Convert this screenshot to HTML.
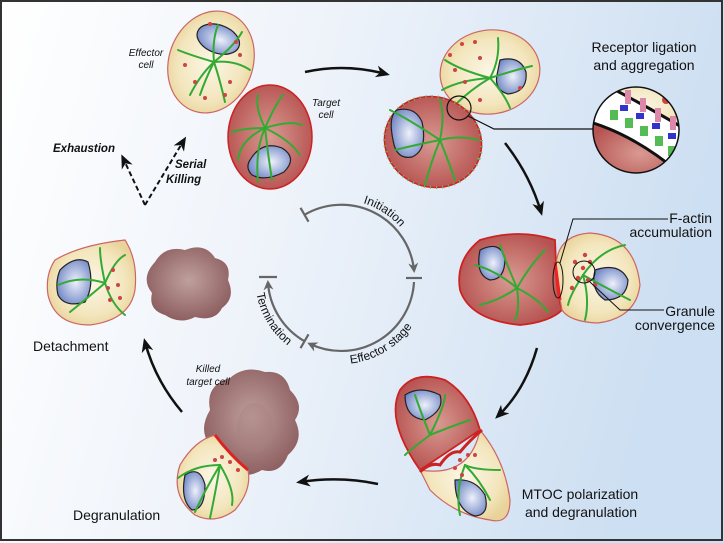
<!DOCTYPE html>
<html><head><meta charset="utf-8"><style>
html,body{margin:0;padding:0;width:724px;height:543px;overflow:hidden;background:#fff}
svg{display:block}
text{font-family:"Liberation Sans",sans-serif;fill:#111}
</style></head><body>
<svg width="724" height="543" viewBox="0 0 724 543">
<defs>
<linearGradient id="bg" x1="0" y1="0" x2="1" y2="0.2">
<stop offset="0" stop-color="#ffffff"/><stop offset="0.45" stop-color="#eef3fa"/><stop offset="1" stop-color="#cddff2"/></linearGradient>
<radialGradient id="eff" cx="0.5" cy="0.5" r="0.55"><stop offset="0" stop-color="#fbf6e6"/><stop offset="0.7" stop-color="#f3e6bd"/><stop offset="1" stop-color="#e9d39a"/></radialGradient>
<radialGradient id="tgt" cx="0.5" cy="0.5" r="0.55"><stop offset="0" stop-color="#d99a92"/><stop offset="1" stop-color="#b65250"/></radialGradient>
<radialGradient id="nuc" cx="0.55" cy="0.5" r="0.6"><stop offset="0" stop-color="#eef1fb"/><stop offset="1" stop-color="#6f86c4"/></radialGradient>
<radialGradient id="dead" cx="0.5" cy="0.45" r="0.6"><stop offset="0" stop-color="#bfa09c"/><stop offset="1" stop-color="#8a5a5c"/></radialGradient>
<marker id="ahb" markerWidth="14" markerHeight="12" refX="10" refY="6" orient="auto" markerUnits="userSpaceOnUse"><path d="M0,0 L14,6 L0,12 L4,6z" fill="#111"/></marker>
<marker id="ahg" markerWidth="10" markerHeight="10" refX="7" refY="5" orient="auto" markerUnits="userSpaceOnUse"><path d="M0,0 L10,5 L0,10 L3,5z" fill="#666"/></marker>
<path id="pInit" d="M334.2,200.3 A78,78 0 0 1 414.8,252.6"/>
<path id="pEff" d="M326.1,362.7 A86,86 0 0 0 422.8,304.6"/>
<path id="pTerm" d="M256.3,263.1 A86,86 0 0 0 314.4,359.8"/>
</defs>
<rect x="0" y="0" width="724" height="543" fill="url(#bg)"/>
<rect x="1" y="1" width="721" height="539" fill="none" stroke="#333" stroke-width="2"/>

<!-- Effector top left -->
<g transform="rotate(20 211 62)">
<ellipse cx="211" cy="62" rx="42" ry="52" fill="url(#eff)" stroke="#c66" stroke-width="1.2"/>
<ellipse cx="210" cy="38" rx="22" ry="14" fill="url(#nuc)" stroke="#222" stroke-width="1.2"/>
</g>
<g stroke="#3a3" stroke-width="2" fill="none" stroke-linecap="round">
<path d="M214,62 Q190,55 178,50"/><path d="M214,62 Q200,75 190,95"/><path d="M214,62 Q220,80 225,102"/><path d="M214,62 Q235,60 250,70"/><path d="M214,62 Q212,40 218,25"/><path d="M214,62 Q235,45 242,32"/><path d="M214,62 Q205,80 200,95"/></g>
<g fill="#c44"><circle cx="185" cy="65" r="2"/><circle cx="195" cy="82" r="2"/><circle cx="230" cy="82" r="2"/><circle cx="240" cy="55" r="2"/><circle cx="205" cy="98" r="2"/><circle cx="225" cy="95" r="2"/><circle cx="210" cy="24" r="2"/><circle cx="236" cy="42" r="2"/></g>
<text x="146" y="56" font-size="10" font-style="italic" text-anchor="middle">Effector</text>
<text x="146" y="68" font-size="10" font-style="italic" text-anchor="middle">cell</text>

<!-- Target top -->
<ellipse cx="270" cy="137" rx="42" ry="52" fill="url(#tgt)" stroke="#c22" stroke-width="1.5"/>
<path d="M250,160 Q262,140 282,148 Q298,158 284,172 Q265,182 252,175 Q245,168 250,160z" fill="url(#nuc)" stroke="#222" stroke-width="1.2"/>
<g stroke="#3a3" stroke-width="2" fill="none" stroke-linecap="round">
<path d="M265,128 Q245,128 232,132"/><path d="M265,128 Q255,108 258,95"/><path d="M265,128 Q275,105 283,95"/><path d="M265,128 Q290,120 302,125"/><path d="M265,128 Q290,140 300,155"/><path d="M265,128 Q268,155 272,180"/><path d="M265,128 Q255,150 258,182"/><path d="M265,128 Q240,140 238,160"/></g>
<text x="326" y="106" font-size="10" font-style="italic" text-anchor="middle">Target</text>
<text x="326" y="118" font-size="10" font-style="italic" text-anchor="middle">cell</text>

<path d="M305,72 Q345,63 386,74" fill="none" stroke="#111" stroke-width="2.5" marker-end="url(#ahb)"/>

<text x="53" y="152" font-size="11.5" font-weight="bold" font-style="italic">Exhaustion</text>
<text x="175" y="168" font-size="11.5" font-weight="bold" font-style="italic">Serial</text>
<text x="166" y="183" font-size="11.5" font-weight="bold" font-style="italic">Killing</text>
<path d="M145,205 L123,158" stroke="#111" stroke-width="2" stroke-dasharray="5,3" fill="none" marker-end="url(#ahb)"/>
<path d="M145,205 L184,140" stroke="#111" stroke-width="2" stroke-dasharray="5,3" fill="none" marker-end="url(#ahb)"/>

<!-- Top right pair -->
<ellipse cx="490" cy="72" rx="50" ry="42" fill="url(#eff)" stroke="#c66" stroke-width="1.2" transform="rotate(-8 490 72)"/>
<path d="M500,60 Q520,55 526,72 Q528,92 508,94 Q494,90 497,75z" fill="url(#nuc)" stroke="#222" stroke-width="1.2"/>
<g stroke="#3a3" stroke-width="2" fill="none" stroke-linecap="round">
<path d="M490,78 Q460,70 445,60"/><path d="M490,78 Q470,90 455,105"/><path d="M490,78 Q500,60 498,38"/><path d="M490,78 Q515,70 532,66"/><path d="M490,78 Q505,95 510,108"/><path d="M490,78 Q460,80 442,90"/></g>
<g fill="#c44"><circle cx="462" cy="44" r="2"/><circle cx="475" cy="42" r="2"/><circle cx="480" cy="58" r="2"/><circle cx="455" cy="70" r="2"/><circle cx="465" cy="82" r="2"/><circle cx="480" cy="100" r="2"/><circle cx="450" cy="55" r="2"/><circle cx="520" cy="88" r="2"/></g>
<ellipse cx="433" cy="142" rx="49" ry="45" fill="url(#tgt)" stroke="#c22" stroke-width="1.5" transform="rotate(20 433 142)"/>
<ellipse cx="433" cy="142" rx="49" ry="45" fill="none" stroke="#6b6" stroke-width="3" stroke-dasharray="1,5" transform="rotate(20 433 142)"/>
<path d="M397,110 Q415,106 422,122 Q428,150 412,157 Q396,160 393,140 Q388,116 397,110z" fill="url(#nuc)" stroke="#222" stroke-width="1.2"/>
<g stroke="#3a3" stroke-width="2" fill="none" stroke-linecap="round">
<path d="M440,140 Q410,120 390,110"/><path d="M440,140 Q415,145 395,150"/><path d="M440,140 Q430,165 425,185"/><path d="M440,140 Q450,165 455,180"/><path d="M440,140 Q460,135 478,140"/><path d="M440,140 Q445,115 440,100"/></g>
<circle cx="459" cy="108" r="12" fill="none" stroke="#111" stroke-width="1.2"/>
<path d="M468,116 L494,129 L594,129" fill="none" stroke="#111" stroke-width="1.2"/>
<clipPath id="mc"><circle cx="636" cy="130" r="43"/></clipPath>
<g clip-path="url(#mc)">
<rect x="590" y="85" width="100" height="100" fill="#fff"/>
<path d="M590,80 L690,80 L690,132 Q650,108 600,82z" fill="url(#eff)"/>
<path d="M590,122 Q640,137 690,182 L590,185z" fill="url(#tgt)"/>
<path d="M590,122 Q640,137 690,182" fill="none" stroke="#111" stroke-width="3"/>
<path d="M600,82 Q650,108 690,132" fill="none" stroke="#111" stroke-width="3"/>
<g fill="#d8a"><rect x="625" y="90" width="6" height="14"/><rect x="640" y="98" width="6" height="14"/><rect x="655" y="108" width="6" height="14"/><rect x="670" y="116" width="6" height="14"/></g>
<g fill="#5b5"><rect x="610" y="110" width="8" height="10"/><rect x="625" y="118" width="8" height="10"/><rect x="640" y="126" width="8" height="10"/><rect x="655" y="136" width="8" height="10"/><rect x="668" y="146" width="8" height="10"/></g>
<g fill="#33c"><rect x="620" y="105" width="8" height="6"/><rect x="636" y="113" width="8" height="6"/><rect x="652" y="123" width="8" height="6"/><rect x="668" y="133" width="8" height="6"/></g>
<circle cx="666" cy="100" r="4" fill="#c44"/>
</g>
<circle cx="636" cy="130" r="43" fill="none" stroke="#111" stroke-width="1.5"/>
<text x="644" y="52" font-size="14" text-anchor="middle">Receptor ligation</text>
<text x="644" y="70" font-size="14" text-anchor="middle">and aggregation</text>

<path d="M505,143 Q530,175 541,212" fill="none" stroke="#111" stroke-width="2.5" marker-end="url(#ahb)"/>

<!-- Middle right pair -->
<path d="M555,240 Q520,228 480,240 Q455,260 460,290 Q470,320 520,325 Q550,322 562,310 Q556,290 556,265z" fill="url(#tgt)" stroke="#c22" stroke-width="1.8"/>
<path d="M480,250 Q500,240 505,258 Q505,280 490,280 Q475,275 480,250z" fill="url(#nuc)" stroke="#222" stroke-width="1.2"/>
<path d="M556,265 Q558,235 590,233 Q635,236 640,285 Q636,318 598,323 Q570,322 562,310 Q558,290 556,265z" fill="url(#eff)" stroke="#c66" stroke-width="1.2"/>
<path d="M595,270 Q620,262 628,280 Q627,300 605,300 Q590,290 595,270z" fill="url(#nuc)" stroke="#222" stroke-width="1.2"/>
<g stroke="#3a3" stroke-width="2" fill="none" stroke-linecap="round">
<path d="M517,288 Q495,270 475,265"/><path d="M517,288 Q500,300 480,305"/><path d="M517,288 Q520,310 515,320"/><path d="M517,288 Q540,300 548,312"/><path d="M517,288 Q530,265 545,250"/><path d="M517,288 Q505,260 500,245"/>
<path d="M583,275 Q600,250 625,245"/><path d="M583,275 Q610,290 630,300"/><path d="M583,275 Q590,300 585,320"/><path d="M583,275 Q570,295 568,305"/></g>
<g fill="#c44"><circle cx="575" cy="262" r="2.2"/><circle cx="583" cy="268" r="2.2"/><circle cx="590" cy="262" r="2.2"/><circle cx="578" cy="278" r="2.2"/><circle cx="588" cy="280" r="2.2"/><circle cx="572" cy="288" r="2.2"/><circle cx="595" cy="285" r="2.2"/><circle cx="585" cy="255" r="2.2"/></g>
<path d="M555,262 L560,300" stroke="#e22" stroke-width="3" fill="none"/>
<ellipse cx="558" cy="280" rx="5" ry="18" fill="none" stroke="#111" stroke-width="1"/>
<circle cx="584" cy="272" r="11" fill="none" stroke="#111" stroke-width="1"/>
<path d="M560,263 L573,219 L668,219" fill="none" stroke="#111" stroke-width="1"/>
<path d="M590,282 L620,310 L664,310" fill="none" stroke="#111" stroke-width="1"/>
<text x="712" y="223" font-size="14" text-anchor="end">F-actin</text>
<text x="712" y="237" font-size="14" text-anchor="end">accumulation</text>
<text x="715" y="316" font-size="14" text-anchor="end">Granule</text>
<text x="715" y="330" font-size="14" text-anchor="end">convergence</text>

<path d="M537,348 Q525,390 498,416" fill="none" stroke="#111" stroke-width="2.5" marker-end="url(#ahb)"/>

<!-- Lower right pair -->
<path d="M480,430 Q470,395 445,380 Q415,370 400,390 Q385,420 420,470z" fill="url(#tgt)" stroke="#c22" stroke-width="1.8"/>
<path d="M420,470 Q470,478 480,430 Q505,460 510,500 Q510,525 490,520 Q455,515 430,490z" fill="url(#eff)" stroke="#c66" stroke-width="1.2"/>
<path d="M420,472 Q430,462 440,465 Q450,450 460,452 Q470,440 482,430" fill="none" stroke="#c22" stroke-width="3"/>
<path d="M405,395 Q420,385 440,395 Q445,410 425,420 Q405,418 405,395z" fill="url(#nuc)" stroke="#222" stroke-width="1.2"/>
<path d="M455,480 Q475,478 485,495 Q490,515 475,516 Q455,510 455,480z" fill="url(#nuc)" stroke="#222" stroke-width="1.2"/>
<g stroke="#3a3" stroke-width="2" fill="none" stroke-linecap="round">
<path d="M430,435 Q420,410 415,395"/><path d="M430,435 Q445,405 445,395"/><path d="M430,435 Q455,425 470,420"/><path d="M430,435 Q410,450 405,455"/>
<path d="M465,465 Q455,490 460,515"/><path d="M465,465 Q480,480 490,500"/><path d="M465,465 Q475,470 500,470"/></g>
<g fill="#c44"><circle cx="460" cy="460" r="2"/><circle cx="468" cy="455" r="2"/><circle cx="455" cy="468" r="2"/><circle cx="475" cy="455" r="2"/><circle cx="462" cy="475" r="2"/></g>
<text x="580" y="499" font-size="14" text-anchor="middle">MTOC polarization</text>
<text x="581" y="517" font-size="14" text-anchor="middle">and degranulation</text>

<path d="M378,484 Q340,476 300,482" fill="none" stroke="#111" stroke-width="2.5" marker-end="url(#ahb)"/>

<!-- Killed target + degranulation -->
<path d="M210,410 Q205,385 230,378 Q245,365 265,372 Q285,370 290,390 Q305,405 295,420 Q305,440 288,455 Q280,475 262,470 Q245,480 232,470 Q210,465 210,445 Q198,430 210,410z" fill="url(#dead)"/>
<ellipse cx="255" cy="428" rx="18" ry="25" fill="#a88080" opacity="0.4"/>
<path d="M215,435 Q195,440 180,465 Q170,495 195,515 Q215,525 235,510 Q252,490 248,470 Q235,462 215,435z" fill="url(#eff)" stroke="#c66" stroke-width="1.2"/>
<path d="M215,435 Q230,455 248,470" stroke="#d22" stroke-width="3" fill="none"/>
<path d="M185,475 Q200,465 205,485 Q205,510 192,510 Q180,500 185,475z" fill="url(#nuc)" stroke="#222" stroke-width="1.2"/>
<g stroke="#3a3" stroke-width="2" fill="none" stroke-linecap="round">
<path d="M220,465 Q195,465 178,478"/><path d="M220,465 Q205,490 195,512"/><path d="M220,465 Q215,495 210,518"/><path d="M220,465 Q235,490 232,505"/></g>
<g fill="#c44"><circle cx="222" cy="457" r="2"/><circle cx="230" cy="462" r="2"/><circle cx="238" cy="470" r="2"/><circle cx="215" cy="460" r="2"/></g>
<text x="208" y="372" font-size="10" font-style="italic" text-anchor="middle">Killed</text>
<text x="208" y="385" font-size="10" font-style="italic" text-anchor="middle">target cell</text>
<text x="73" y="520" font-size="14">Degranulation</text>

<path d="M182,412 Q155,380 145,342" fill="none" stroke="#111" stroke-width="2.5" marker-end="url(#ahb)"/>

<!-- Detachment -->
<path d="M55,260 Q80,245 125,240 Q138,260 135,290 Q130,320 90,325 Q55,325 48,295 Q45,275 55,260z" fill="url(#eff)" stroke="#c66" stroke-width="1.2"/>
<path d="M60,270 Q75,255 88,262 Q95,285 85,302 Q65,308 58,295 Q55,282 60,270z" fill="url(#nuc)" stroke="#222" stroke-width="1.2"/>
<g stroke="#3a3" stroke-width="2" fill="none" stroke-linecap="round">
<path d="M105,283 Q80,275 58,285"/><path d="M105,283 Q85,300 70,312"/><path d="M105,283 Q112,305 125,315"/><path d="M105,283 Q100,260 100,248"/><path d="M105,283 Q115,260 125,255"/></g>
<g fill="#c44"><circle cx="108" cy="288" r="2"/><circle cx="118" cy="285" r="2"/><circle cx="110" cy="300" r="2"/><circle cx="120" cy="298" r="2"/><circle cx="113" cy="270" r="2"/></g>
<path d="M155,262 Q165,245 185,250 Q205,242 215,258 Q232,262 228,280 Q236,298 222,308 Q215,322 195,317 Q180,325 165,315 Q148,310 152,293 Q140,278 155,262z" fill="url(#dead)"/>
<text x="33" y="351" font-size="14">Detachment</text>

<!-- cycle: center (341,278) r 73 -->
<g fill="none" stroke="#666" stroke-width="2.2">
<path d="M304.5,214.8 A73,73 0 0 1 414,270" marker-end="url(#ahg)"/>
<path d="M414,282 A73,73 0 0 1 310,344" marker-end="url(#ahg)"/>
<path d="M304.5,341.2 A73,73 0 0 1 268,283" marker-end="url(#ahg)"/>
<path d="M300.5,207.8 L308.5,221.7"/><path d="M406,278 L422,278"/><path d="M308.5,334.3 L300.5,348.2"/><path d="M259,277 L277,277"/>
</g>
<text font-size="12" fill="#222"><textPath href="#pInit" startOffset="50%" text-anchor="middle">Initiation</textPath></text>
<text font-size="12" fill="#222"><textPath href="#pEff" startOffset="50%" text-anchor="middle">Effector stage</textPath></text>
<text font-size="12" fill="#222"><textPath href="#pTerm" startOffset="50%" text-anchor="middle">Termination</textPath></text>
</svg>
</body></html>
